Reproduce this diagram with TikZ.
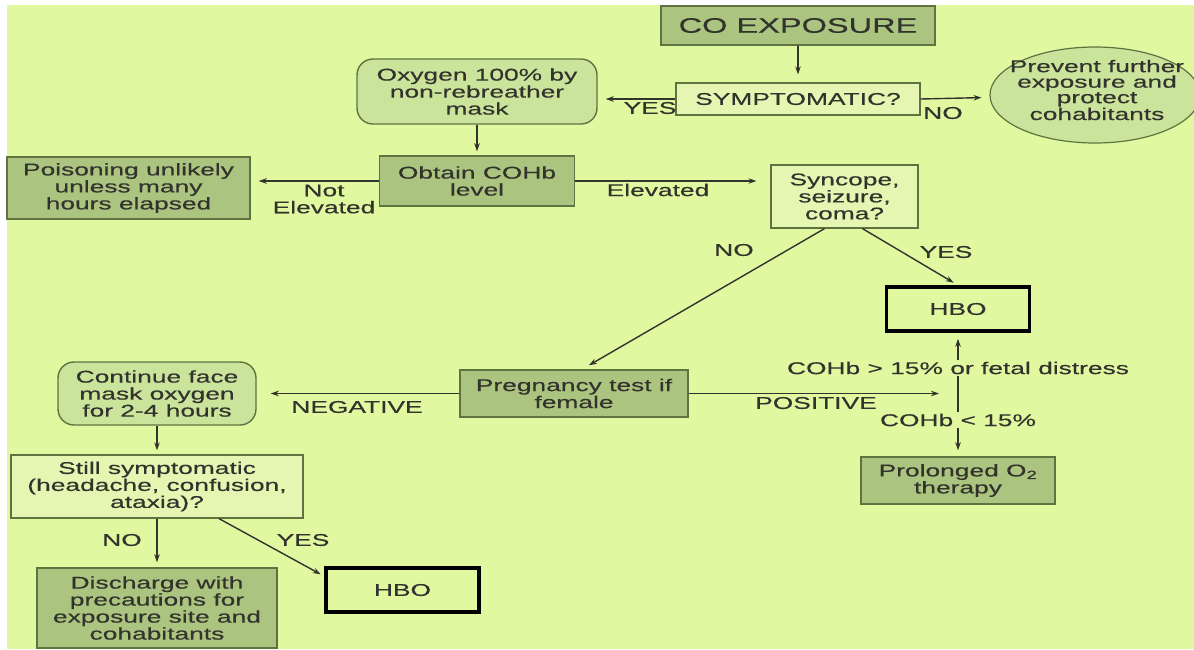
\documentclass[tikz,border=0pt]{standalone}
\usepackage{fontspec}
\setmainfont[FakeStretch=1.55,FakeBold=0.4]{Liberation Sans}
\usetikzlibrary{shapes.geometric,arrows.meta}
\definecolor{bggreen}{HTML}{E0F8A0}
\definecolor{darkbox}{HTML}{ABC47F}
\definecolor{midbox}{HTML}{CBE49C}
\definecolor{lightbox}{HTML}{E4F6B2}
\definecolor{edge}{HTML}{5F7340}
\definecolor{ink}{HTML}{33332D}

\begin{document}
\begin{tikzpicture}[x=1pt,y=-1pt,
    every node/.style={text=ink, font=\fontsize{17}{17}\selectfont, inner sep=2pt},
    dbox/.style={draw=edge, line width=1.4pt, fill=darkbox, align=center},
    lbox/.style={draw=edge, line width=1.2pt, fill=lightbox, align=center},
    rbox/.style={draw=edge, line width=1.4pt, fill=midbox, rounded corners=16pt, align=center},
    hbo/.style={draw=black, line width=3.5pt, fill=bggreen, minimum height=44pt},
    arr/.style={draw=ink, line width=1.4pt, -{Stealth[length=8pt,width=5.5pt]}, shorten >=8pt}]
\fill[white] (0,0) rectangle (1194,649);
\fill[bggreen] (7,5) rectangle (1194,649);
\useasboundingbox (0,0) rectangle (1194,649);

% boxes
\node[dbox, minimum width=274pt, minimum height=39pt, font=\fontsize{21}{22}\selectfont] (co) at (798,25.5) {CO EXPOSURE};
\node[lbox, minimum width=244pt, minimum height=32pt] (symp) at (798,99) {SYMPTOMATIC?};
\node[rbox, minimum width=240pt, minimum height=65pt] (oxy) at (477,91.5) {Oxygen 100\% by\\non-rebreather\\mask};
\node[ellipse, draw=edge, line width=1.2pt, fill=midbox, minimum width=210pt, minimum height=96pt] (prev) at (1095,95) {};
\node[align=center, font=\fontsize{17}{15.5}\selectfont] (prevtxt) at (1097,90) {Prevent further\\exposure and\\protect\\cohabitants};
\node[dbox, minimum width=195pt, minimum height=50pt] (obtain) at (477,181) {Obtain COHb\\level};
\node[dbox, minimum width=243pt, minimum height=62pt] (poison) at (128.5,188) {Poisoning unlikely\\unless many\\hours elapsed};
\node[lbox, minimum width=147pt, minimum height=63pt] (sync) at (844.5,196.5) {Syncope,\\seizure,\\coma?};
\node[hbo, minimum width=143pt] (hboa) at (958,309) {HBO};
\node[dbox, minimum width=228pt, minimum height=47pt] (preg) at (574,393.5) {Pregnancy test if\\female};
\node[rbox, minimum width=198pt, minimum height=63pt] (cont) at (157,393.5) {Continue face\\mask oxygen\\for 2-4 hours};
\node[lbox, minimum width=292pt, minimum height=63pt] (still) at (157,486.5) {Still symptomatic\\(headache, confusion,\\ataxia)?};
\node[dbox, minimum width=194pt, minimum height=47pt] (prol) at (958,480.5) {Prolonged O\textsubscript{2}\\therapy};
\node[hbo, minimum width=153pt] (hbob) at (402.5,590) {HBO};
\node[dbox, minimum width=240pt, minimum height=80pt] (disch) at (157,608) {Discharge with\\precautions for\\exposure site and\\cohabitants};

% labels
\node (yesa) at (650,108) {YES};
\node (noa) at (943,113) {NO};
\node[align=center] (notel) at (324,199) {Not\\Elevated};
\node (elev) at (658,190) {Elevated};
\node (nob) at (734,250) {NO};
\node (yesb) at (946,252) {YES};
\node (neg) at (357,407) {NEGATIVE};
\node (posi) at (816,403) {POSITIVE};
\node (gt) at (958,368) {COHb > 15\% or fetal distress};
\node (lt) at (958,420) {COHb < 15\%};
\node (noc) at (122,540) {NO};
\node (yesc) at (303,540) {YES};
\coordinate (posend) at (939,393.5);

% connectors
\draw[arr] (co) -- (symp);
\draw[arr] (symp.west) -- (symp.west -| oxy.east);
\draw[arr] (symp.east) -- (prev);
\draw[arr, shorten >=4pt] (oxy) -- (obtain);
\draw[arr] (obtain.west) -- (obtain.west -| poison.east);
\draw[arr, shorten >=14pt] (obtain.east) -- (obtain.east -| sync.west);
\draw[arr] ([xshift=-20pt]sync.south) -- ([xshift=8pt]preg.north);
\draw[arr, shorten >=5pt] ([xshift=18pt]sync.south) -- (hboa.north);
\draw[arr, shorten >=14pt] (preg.west) -- (preg.west -| cont.east);
\draw[arr, shorten >=0pt] (preg.east) -- (posend);
\draw[arr, shorten >=6pt] (gt) -- (hboa);
\draw[draw=ink, line width=1.4pt] (gt) -- (lt);
\draw[arr, shorten >=6pt] (lt) -- (prol);
\draw[arr, shorten >=4pt] (cont) -- (still);
\draw[arr, shorten >=5pt] (still) -- (disch);
\draw[arr, shorten >=4pt] ([xshift=62pt]still.south) -- ([yshift=-10pt]hbob.north west);
\end{tikzpicture}
\end{document}
